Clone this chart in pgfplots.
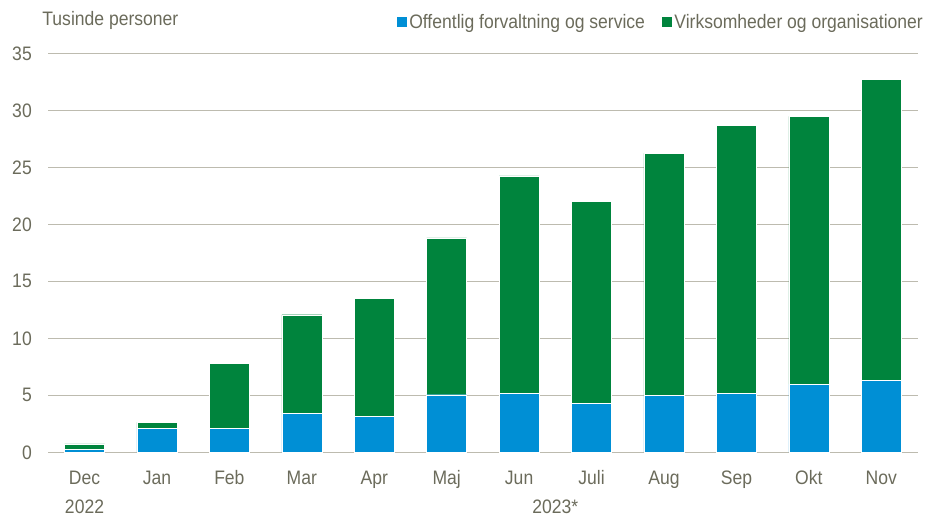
\documentclass[border=0pt]{standalone}
\usepackage{fontspec}
\setmainfont{Liberation Sans}[FakeStretch=0.9]
\usepackage{pgfplots}
\pgfplotsset{compat=1.18}
\definecolor{offblue}{HTML}{008FD5}
\definecolor{virkgreen}{HTML}{00843D}
\definecolor{txtgray}{HTML}{6B6B5B}
\definecolor{gridgray}{HTML}{BDBBAF}
\newcommand{\hk}{\vphantom{Okt}}

\begin{document}
\begin{tikzpicture}
\useasboundingbox (-48.3pt,-64.7pt) rectangle (881.7pt,452.3pt);
\begin{axis}[
  at={(0,0)}, anchor=south west,
  scale only axis, width=869.2pt, height=399pt,
  clip=false,
  ybar stacked, bar width=40pt,
  ymin=0, ymax=35, ytick={0,5,...,35},
  xmin=-0.5, xmax=11.5,
  xtick={0,...,11},
  xticklabels={{\hk Dec\\2022},\hk Jan,\hk Feb,\hk Mar,\hk Apr,\hk Maj,\hk Jun,
    \hk Juli,\hk Aug,\hk Sep,\hk Okt,\hk Nov},
  extra x ticks={6.5},
  extra x tick labels={{\hk\\2023*}},
  extra x tick style={grid=none},
  major tick length=0pt,
  axis line style={draw=none},
  ymajorgrids, grid style={gridgray, line width=0.9pt},
  /pgf/number format/assume math mode=true,
  yticklabel style={font=\fontsize{19.5}{23}\selectfont, text=txtgray, xshift=-13pt},
  xticklabel style={font=\fontsize{19.5}{29}\selectfont, text=txtgray, align=center,
    inner sep=0.5pt, yshift=-17pt},
  legend style={draw=none, fill=none, at={(axis description cs:1.0087,1.0785)}, anchor=east,
    font=\fontsize{19.5}{23}\selectfont, text=txtgray, inner sep=0pt,
    /tikz/every even column/.append style={column sep=14pt}},
  legend columns=2,
  legend image code/.code={\fill[#1] (0pt,-5.5pt) rectangle (11pt,5.5pt);},
]
\addplot[fill=offblue, draw=white, line width=0.4pt] coordinates {
  (0,0.26) (1,2.1) (2,2.1) (3,3.42) (4,3.18) (5,5.05)
  (6,5.17) (7,4.3) (8,5.0) (9,5.17) (10,5.96) (11,6.3)
};
\addlegendentry{Offentlig forvaltning og service}
\addplot[fill=virkgreen, draw=white, line width=0.4pt] coordinates {
  (0,0.47) (1,0.53) (2,5.7) (3,8.65) (4,10.32) (5,13.75)
  (6,19.07) (7,17.74) (8,21.23) (9,23.54) (10,23.51) (11,26.42)
};
\addlegendentry{Virksomheder og organisationer}
\node[anchor=west, text=txtgray, font=\fontsize{19.5}{23}\selectfont, inner sep=0pt]
  at (axis description cs:-0.007,1.083) {Tusinde personer};
\end{axis}
\end{tikzpicture}
\end{document}
